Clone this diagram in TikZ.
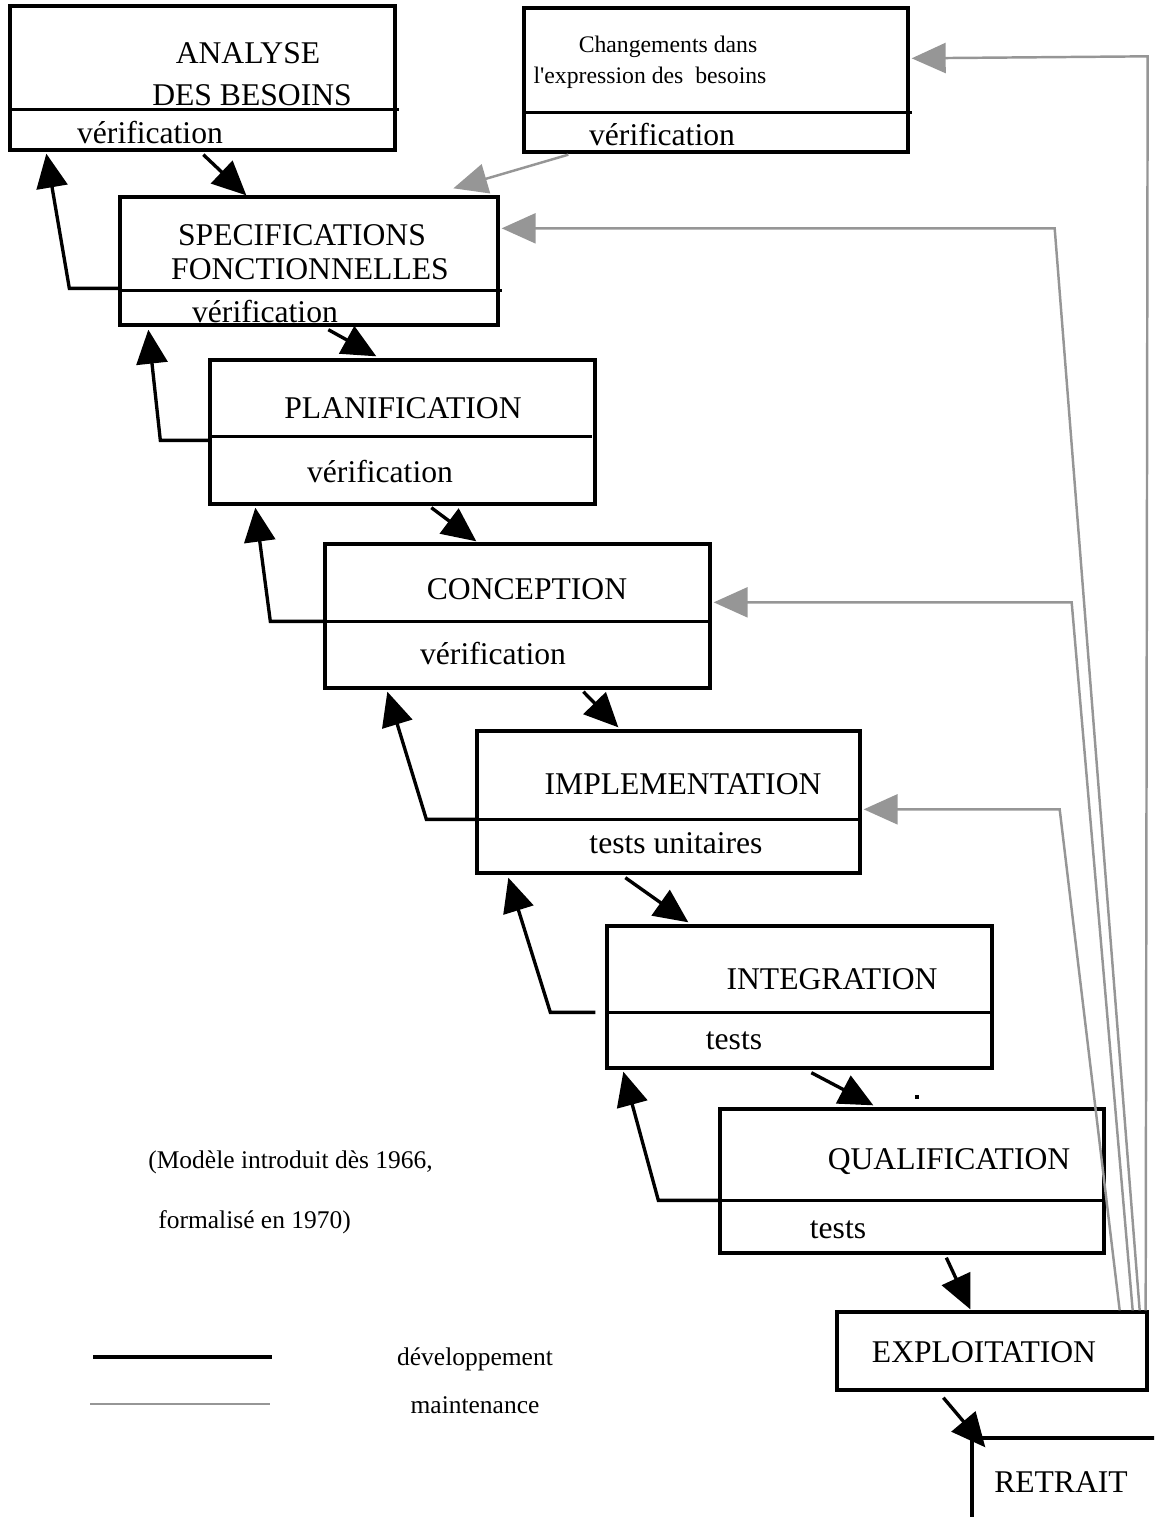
\documentclass[tikz,border=0pt]{standalone}
\usepackage{fontspec}
\setmainfont{Liberation Serif}
\usepackage{tikz}
\usetikzlibrary{calc,positioning,fit}
\usetikzlibrary{arrows.meta}
\definecolor{maintgray}{RGB}{150,150,150}
\tikzset{>={Triangle[length=0.68cm,width=0.62cm]}}

\begin{document}
\begin{tikzpicture}[x=0.02cm,y=-0.02cm]
        \tikzstyle{stage} = [draw=black, line width=1.9pt, rectangle, inner sep=0pt]
        \tikzstyle{dev} = [->, draw=black, line width=1.9pt]
        \tikzstyle{maint} = [-{Triangle[length=0.68cm,width=0.6cm]}, draw=maintgray, line width=1.4pt]
        \tikzstyle{big} = [font=\fontsize{18}{21}\selectfont, inner sep=0pt]
        \tikzstyle{small} = [font=\fontsize{13.5}{16}\selectfont, inner sep=0pt]
        \tikzstyle{note} = [font=\fontsize{14.5}{17}\selectfont, inner sep=0pt]

        \clip (0,0) rectangle (1154,1517);

        % boxes
        \node[stage, fit={(10,6) (395,150)}] (ana) {};
        \node[stage, fit={(524,8) (908,152)}] (chg) {};
        \node[stage, fit={(120,197) (498,325)}] (spec) {};
        \node[stage, fit={(210,360) (595,504)}] (plan) {};
        \node[stage, fit={(325,544) (710,688)}] (conc) {};
        \node[stage, fit={(477,731) (860,873)}] (impl) {};
        \node[stage, fit={(607,926) (992,1068)}] (integ) {};
        \node[stage, fit={(720,1109) (1104,1253)}] (qual) {};
        \node[stage, fit={(837,1312) (1147,1390)}] (expl) {};
        \node[stage, fit={(972,1438) (1220,1580)}] (retr) {};

        % separators
        \draw[line width=1.9pt] ($(ana.north west)+(0,105)$) -- ($(ana.north east)+(2,105)$);
        \draw[line width=1.9pt] ($(chg.north west)+(0,106)$) -- ($(chg.north east)+(2,106)$);
        \draw[line width=1.9pt] ($(spec.north west)+(0,95)$) -- ($(spec.north east)+(2,95)$);
        \draw[line width=1.9pt] ($(plan.north west)+(0,78)$) -- ($(plan.north east)+(-5,78)$);
        \draw[line width=1.9pt] ($(conc.north west)+(0,79)$) -- ($(conc.north east)+(-4,79)$);
        \draw[line width=1.9pt] ($(impl.north west)+(0,90)$) -- ($(impl.north east)+(0,90)$);
        \draw[line width=1.9pt] ($(integ.north west)+(0,88)$) -- ($(integ.north east)+(0,88)$);
        \draw[line width=1.9pt] ($(qual.north west)+(0,93)$) -- ($(qual.north east)+(-2,93)$);

        % texts
        \node[big] (anaT1) at (248,53) {ANALYSE};
        \node[big] (anaT2) at (252,95) {DES BESOINS};
        \node[big] (anaV) at (150,133) {vérification};
        \node[small] (chgT1) at (668,47) {Changements dans};
        \node[small] (chgT2) at (650,78) {l\textquotesingle expression des\ \ besoins};
        \node[big] (chgV) at (662,135) {vérification};
        \node[big] (specT1) at (302,235) {SPECIFICATIONS};
        \node[big] (specT2) at (310,269) {FONCTIONNELLES};
        \node[big] (specV) at (265,312) {vérification};
        \node[big] (planT) at (403,408) {PLANIFICATION};
        \node[big] (planV) at (380,472) {vérification};
        \node[big] (concT) at (527,589) {CONCEPTION};
        \node[big] (concV) at (493,654) {vérification};
        \node[big] (implT) at (683,784) {IMPLEMENTATION};
        \node[big] (implV) at (676,843) {tests unitaires};
        \node[big] (integT) at (832,979) {INTEGRATION};
        \node[big] (integV) at (734,1041) {tests};
        \node[big] (qualT) at (949,1162) {QUALIFICATION};
        \node[big] (qualV) at (838,1230) {tests};
        \node[big] (explT) at (984,1352) {EXPLOITATION};
        \node[big] (retrT) at (1061,1482) {RETRAIT};
        \node[fill=black, inner sep=0pt, minimum size=2.5pt] (stray) at (917,1097) {};

        % development
        \draw[dev] ($(ana.south west)+(195,3)$) -- ($(spec.north west)+(128,0)$);
        \draw[dev] ($(spec.south west)+(210,3)$) -- ($(plan.north west)+(168,-2)$);
        \draw[dev] ($(plan.south west)+(223,2)$) -- ($(conc.north west)+(153,-1)$);
        \draw[dev] ($(conc.south west)+(260,2)$) -- ($(impl.north west)+(143,-2)$);
        \draw[dev] ($(impl.south west)+(150,3)$) -- ($(integ.north west)+(83,-2)$);
        \draw[dev] ($(integ.south west)+(206,3)$) -- ($(qual.north west)+(155,-2)$);
        \draw[dev] ($(qual.south west)+(228,3)$) -- ($(expl.north west)+(135,-1)$);
        \draw[dev] ($(expl.south west)+(108,6)$) -- ($(retr.north west)+(15,11)$);

        \draw[dev] ($(spec.north west)+(0,93)$) -- ($(spec.north west)+(-49,93)$) -- ($(ana.south west)+(38,2)$);
        \draw[dev] ($(plan.north west)+(0,82)$) -- ($(plan.north west)+(-48,82)$) -- ($(spec.south west)+(30,3)$);
        \draw[dev] ($(conc.north west)+(0,79)$) -- ($(conc.north west)+(-53,79)$) -- ($(plan.south west)+(47,2)$);
        \draw[dev] ($(impl.north west)+(0,90)$) -- ($(impl.north west)+(-49,90)$) -- ($(conc.south west)+(64,2)$);
        \draw[dev] ($(integ.north west)+(-10,88)$) -- ($(integ.north west)+(-55,88)$) -- ($(impl.south west)+(33,3)$);
        \draw[dev] ($(qual.north west)+(0,93)$) -- ($(qual.north west)+(-60,93)$) -- ($(integ.south west)+(18,2)$);

        % maintenance
        \draw[maint] ($(chg.south west)+(46,1)$) -- ($(spec.north west)+(335,-7)$);
        \draw[maint] ($(expl.north east)+(-3,0)$) -- ($(chg.north east)+(238,50)$) -- ($(chg.north east)+(2,52)$);
        \draw[maint] ($(expl.north east)+(-9,0)$) -- ($(spec.north east)+(555,33)$) -- ($(spec.north east)+(2,33)$);
        \draw[maint] ($(expl.north east)+(-16,0)$) -- ($(conc.north east)+(360,60)$) -- ($(conc.north east)+(2,60)$);
        \draw[maint] ($(expl.north east)+(-29,0)$) -- ($(impl.north east)+(198,80)$) -- ($(impl.north east)+(2,80)$);

        % note and legend
        \node[note, anchor=west] (note1) at (148,1162) {(Modèle introduit dès 1966,};
        \node[note, anchor=west] (note2) at (158,1222) {formalisé en 1970)};
        \coordinate (devA) at (93,1357);
        \coordinate (devB) at (272,1357);
        \coordinate (mntA) at (90,1404);
        \coordinate (mntB) at (270,1404);
        \draw[line width=1.9pt] (devA) -- (devB);
        \draw[draw=maintgray, line width=1.4pt] (mntA) -- (mntB);
        \node[note] (devL) at (475,1359) {développement};
        \node[note] (mntL) at (475,1405) {maintenance};
\end{tikzpicture}
\end{document}
